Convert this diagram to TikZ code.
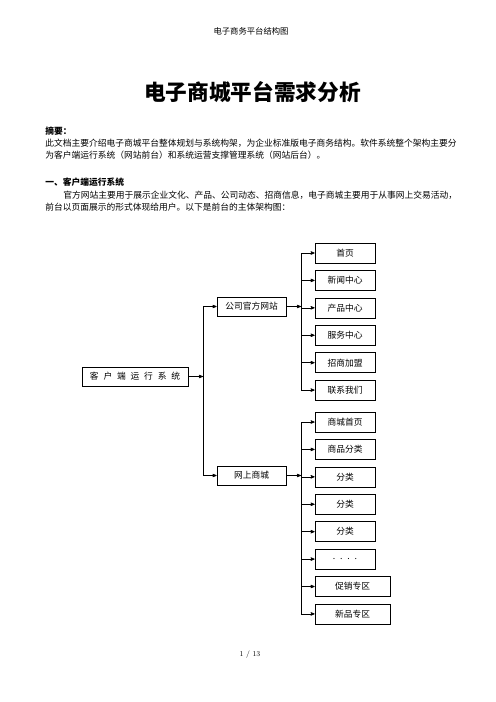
\documentclass[tikz,border=0pt]{standalone}
\usepackage{fontspec}
\newfontfamily\cjk{Noto Sans CJK SC}
\usepackage{tikz}
\usetikzlibrary{arrows}
\newcommand{\kg}{\hspace{0.55em}}

\begin{document}
\begin{tikzpicture}[x=1.2pt,y=-1.2pt,->,>=stealth',node distance=32.9pt,line width=0.8pt,
  font=\cjk\fontsize{10.5pt}{12pt}\selectfont,
  item node/.style={rectangle,draw,minimum width=72pt,minimum height=24pt,inner sep=0pt},
  wide node/.style={item node,minimum width=90pt},
  group node/.style={rectangle,draw,minimum width=83pt,minimum height=23pt,inner sep=0pt},
  text line/.style={anchor=west,inner sep=0pt}]
  \useasboundingbox (0,0) rectangle (496,702);

  % page text
  \node (head) at (251,31) {\fontsize{10pt}{12pt}\selectfont 电子商务平台结构图};
  \node (title) at (252.5,92) {\fontsize{26pt}{30pt}\selectfont\bfseries 电子商城平台需求分析};
  \node[text line] (abs) at (45,131) {\bfseries 摘要：};
  \node[text line] (p1) at (45,143) {此文档主要介绍电子商城平台整体规划与系统构架，为企业标准版电子商务结构。软件系统整个架构主要分};
  \node[text line] (p2) at (45,155) {为客户端运行系统（网站前台）和系统运营支撑管理系统（网站后台）。};
  \node[text line] (sec) at (45,182) {\bfseries 一、客户端运行系统};
  \node[text line] (p3) at (63,195) {官方网站主要用于展示企业文化、产品、公司动态、招商信息，电子商城主要用于从事网上交易活动，};
  \node[text line] (p4) at (45,207) {前台以页面展示的形式体现给用户。以下是前台的主体架构图：};
  \node (page) at (250,655) {\rmfamily\fontsize{9pt}{11pt}\selectfont 1 / 13};

  % structure
  \node[group node,minimum width=127pt] (root) at (135,376.5) {客\kg 户\kg 端\kg 运\kg 行\kg 系\kg 统};
  \node[group node] (site) at (251.5,306.5) {公司官方网站};
  \node[group node] (mall) at (251.5,475.5) {网上商城};
  \coordinate (j0) at (203,376.5);
  \coordinate (j1) at (301,306.5);
  \coordinate (j2) at (301,475.5);

  \node[item node] (s1) at (345,253) {首页};
  \node[item node] (s2) [below of=s1] {新闻中心};
  \node[item node] (s3) [below of=s2] {产品中心};
  \node[item node] (s4) [below of=s3] {服务中心};
  \node[item node] (s5) [below of=s4] {招商加盟};
  \node[item node] (s6) [below of=s5] {联系我们};

  \node[item node] (m1) at (345,422) {商城首页};
  \node[item node] (m2) [below of=m1] {商品分类};
  \node[item node] (m3) [below of=m2] {分类};
  \node[item node] (m4) [below of=m3] {分类};
  \node[item node] (m5) [below of=m4] {分类};
  \node[item node] (m6) [below of=m5] {.\kg.\kg.\kg.};
  \node[wide node,xshift=9pt] (m7) [below of=m6] {促销专区};
  \node[wide node] (m8) [below of=m7] {新品专区};

  \draw (root) -- (j0);
  \draw (j0) |- (site);
  \draw (j0) |- (mall);
  \draw (site) -- (j1);
  \draw (mall) -- (j2);
  \foreach \n in {s1,s2,s3,s4,s5,s6}
    \draw (j1) |- (\n);
  \foreach \n in {m1,m2,m3,m4,m5,m6,m7,m8}
    \draw (j2) |- (\n);
\end{tikzpicture}
\end{document}
